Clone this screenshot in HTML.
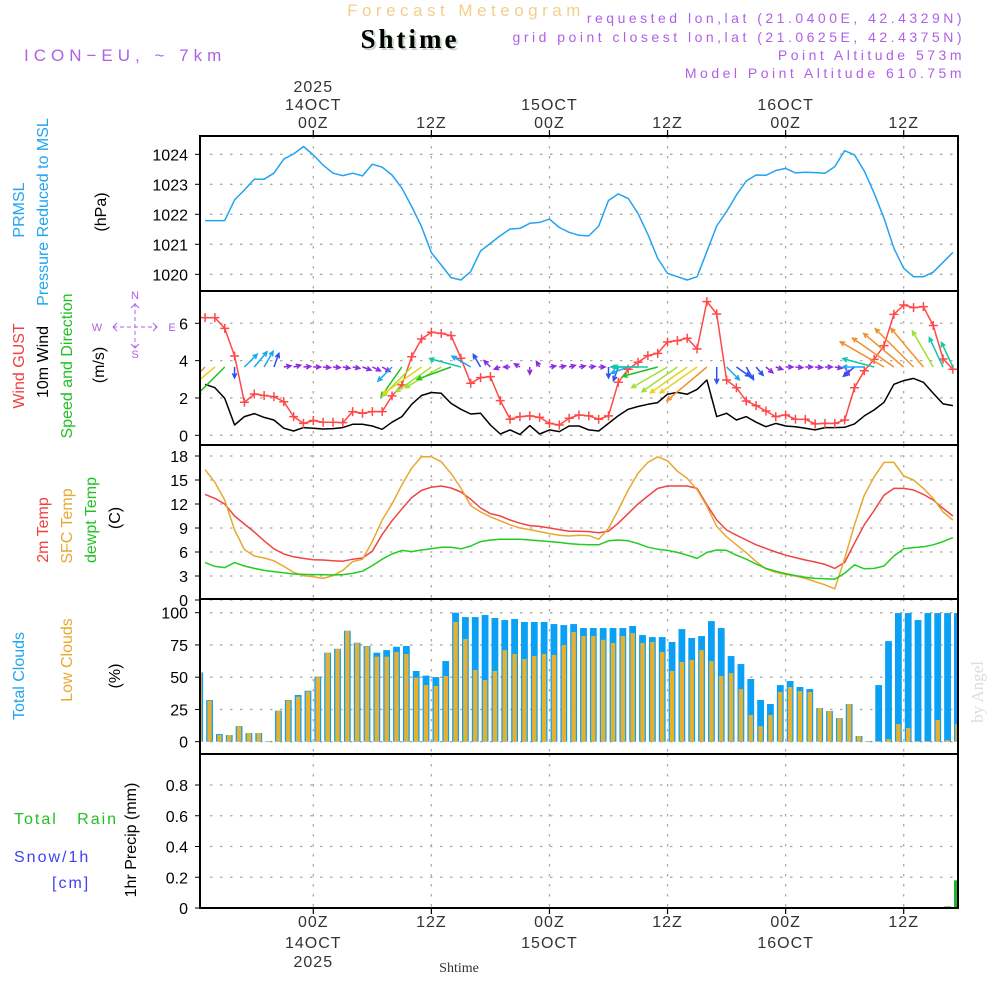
<!DOCTYPE html>
<html><head><meta charset="utf-8">
<style>
html,body{margin:0;padding:0;background:#fff;}
svg{display:block;font-family:"Liberation Sans",sans-serif;}
</style></head>
<body>
<svg id="c" width="1000" height="1000" viewBox="0 0 1000 1000" xmlns="http://www.w3.org/2000/svg">
<rect x="0" y="0" width="1000" height="1000" fill="#fff"/>
<text x="466" y="16" text-anchor="middle" font-size="17" fill="#f3cf8c" letter-spacing="4.5">Forecast Meteogram</text>
<text x="412" y="50" text-anchor="middle" font-size="27" font-weight="bold" font-family="Liberation Serif,serif" fill="#c8d8c8" letter-spacing="3">Shtime</text>
<text x="410" y="48" text-anchor="middle" font-size="27" font-weight="bold" font-family="Liberation Serif,serif" fill="#000" letter-spacing="3">Shtime</text>
<text x="24" y="61" font-size="17" fill="#b060e8" letter-spacing="5">ICON−EU, ~ 7km</text>
<g font-size="14" fill="#b060e8" text-anchor="end" letter-spacing="3.5">
<text x="965" y="23">requested lon,lat (21.0400E, 42.4329N)</text>
<text x="965" y="42">grid point closest lon,lat (21.0625E, 42.4375N)</text>
<text x="965" y="60">Point Altitude 573m</text>
<text x="965" y="78">Model Point Altitude 610.75m</text>
</g>
<g font-size="16">
<text transform="translate(24,210) rotate(-90)" text-anchor="middle" fill="#22a4f0">PRMSL</text>
<text transform="translate(48,212) rotate(-90)" text-anchor="middle" fill="#22a4f0">Pressure Reduced to MSL</text>
<text transform="translate(106,212) rotate(-90)" text-anchor="middle" fill="#000">(hPa)</text>
<text transform="translate(24,366) rotate(-90)" text-anchor="middle" fill="#f04040">Wind GUST</text>
<text transform="translate(48,362) rotate(-90)" text-anchor="middle" fill="#000">10m Wind</text>
<text transform="translate(72,366) rotate(-90)" text-anchor="middle" fill="#22c022">Speed and Direction</text>
<text transform="translate(104,365) rotate(-90)" text-anchor="middle" fill="#000">(m/s)</text>
<text transform="translate(48,530) rotate(-90)" text-anchor="middle" fill="#f04040">2m Temp</text>
<text transform="translate(72,526) rotate(-90)" text-anchor="middle" fill="#e8a830">SFC Temp</text>
<text transform="translate(96,520) rotate(-90)" text-anchor="middle" fill="#22c022">dewpt Temp</text>
<text transform="translate(120,518) rotate(-90)" text-anchor="middle" fill="#000">(C)</text>
<text transform="translate(24,676) rotate(-90)" text-anchor="middle" fill="#22a4f0">Total Clouds</text>
<text transform="translate(72,660) rotate(-90)" text-anchor="middle" fill="#e8a830">Low Clouds</text>
<text transform="translate(120,676) rotate(-90)" text-anchor="middle" fill="#000">(%)</text>
<text transform="translate(136,840) rotate(-90)" text-anchor="middle" fill="#000">1hr Precip (mm)</text>
<text x="14" y="824" fill="#22c022" letter-spacing="2" xml:space="preserve">Total   Rain</text>
<text x="14" y="862" fill="#4040f0" letter-spacing="2">Snow/1h</text>
<text x="52" y="888" fill="#4040f0" letter-spacing="2">[cm]</text>
</g>
<g fill="#b060e8" stroke="#b060e8" font-size="11">
<text x="135" y="299" text-anchor="middle" stroke="none">N</text>
<text x="135" y="358" text-anchor="middle" stroke="none">S</text>
<text x="97" y="331" text-anchor="middle" stroke="none">W</text>
<text x="172" y="331" text-anchor="middle" stroke="none">E</text>
<line x1="135" y1="303" x2="135" y2="348" stroke-dasharray="4,3"/>
<line x1="113" y1="327" x2="157" y2="327" stroke-dasharray="4,3"/>
<polyline points="117,323 113,327 117,331" fill="none"/><polyline points="153,323 157,327 153,331" fill="none"/>
<polyline points="131,308 135,304 139,308" fill="none"/><polyline points="131,344 135,348 139,344" fill="none"/>
</g>
<text transform="translate(983,692) rotate(-90)" text-anchor="middle" font-size="17" font-family="Liberation Serif,serif" fill="#d8e0d8">by Angel</text>
<text x="459" y="972" text-anchor="middle" font-size="14" font-family="Liberation Serif,serif" fill="#333">Shtime</text>
<g id="plot"></g>
</svg>
<script>
const firstHour = -11;
const pressure = [1021.79,1021.79,1021.79,1022.48,1022.81,1023.17,1023.17,1023.37,1023.84,1024.01,1024.26,1023.98,1023.64,1023.37,1023.29,1023.37,1023.28,1023.67,1023.57,1023.31,1022.87,1022.26,1021.59,1020.72,1020.31,1019.89,1019.81,1020.09,1020.78,1021.03,1021.29,1021.51,1021.53,1021.70,1021.73,1021.84,1021.56,1021.40,1021.30,1021.28,1021.61,1022.46,1022.68,1022.53,1022.03,1021.33,1020.53,1020.03,1019.92,1019.81,1019.92,1020.76,1021.61,1022.09,1022.64,1023.11,1023.31,1023.30,1023.46,1023.53,1023.38,1023.40,1023.39,1023.37,1023.59,1024.12,1023.98,1023.44,1022.70,1021.87,1020.87,1020.20,1019.92,1019.92,1020.07,1020.40,1020.73];
const gust = [6.30,6.30,5.73,4.25,1.77,2.21,2.13,2.07,1.80,1.0,0.64,0.79,0.70,0.70,0.68,1.27,1.18,1.27,1.27,2.11,2.70,4.21,5.16,5.52,5.46,5.34,4.13,2.79,3.09,3.14,1.86,0.86,1.0,1.04,0.96,0.64,0.55,0.91,1.09,1.04,0.86,1.04,2.84,3.54,3.91,4.27,4.39,5.0,5.07,5.20,4.63,7.16,6.5,2.96,2.55,1.84,1.59,1.30,1.0,1.09,0.86,0.86,0.61,0.64,0.64,0.82,2.55,3.46,4.07,4.80,6.48,6.98,6.84,6.89,5.88,4.09,3.54];
const wind10m = [2.73,2.55,1.98,0.55,1.0,1.16,0.96,0.82,0.38,0.23,0.41,0.38,0.34,0.36,0.41,0.59,0.59,0.5,0.32,0.70,1.0,1.66,2.13,2.29,2.25,1.71,1.39,1.14,1.18,0.55,0.07,0.29,0.05,0.52,0.07,0.29,0.2,0.5,0.5,0.29,0.23,0.64,1.05,1.39,1.54,1.66,1.75,2.2,2.30,2.2,2.46,2.96,1.0,1.18,0.82,1.0,0.7,0.46,0.64,0.5,0.46,0.38,0.29,0.41,0.41,0.43,0.61,1.04,1.36,1.77,2.73,2.93,3.05,2.84,2.25,1.68,1.59];
const windDir = [225,220,225,270,45,50,60,70,10,15,5,0,-5,-5,-10,-10,-20,-25,-30,225,235,225,215,215,210,200,165,150,120,135,200,180,150,270,120,10,10,15,10,5,0,270,250,200,180,180,195,210,215,215,215,220,270,315,325,300,310,320,340,0,-5,0,-5,0,-10,300,220,180,165,150,145,140,135,130,120,115,115];
const windVec = [2.7,2.5,2.2,0.6,1.0,1.1,1.0,0.8,0.4,0.4,0.4,0.4,0.4,0.4,0.4,0.4,0.5,0.5,0.5,1.1,2.0,2.3,2.6,2.4,2.3,2.0,1.8,1.2,0.8,0.5,0.35,0.35,0.35,0.4,0.35,0.35,0.35,0.35,0.35,0.35,0.35,0.6,0.8,1.0,1.5,1.9,2.0,2.3,2.4,2.5,2.5,2.9,0.9,1.0,0.9,0.8,0.6,0.5,0.4,0.4,0.4,0.4,0.4,0.4,0.4,0.5,0.8,1.2,1.8,2.8,2.8,2.9,3.0,2.8,2.3,1.8,1.5];
const temp2m = [13.2,12.7,12.0,10.5,9.5,8.5,7.4,6.4,5.75,5.4,5.2,5.04,5.0,4.9,4.85,5.1,5.25,6.1,8.2,9.9,11.4,12.8,13.7,14.1,14.25,14.0,13.5,12.6,11.5,10.8,10.5,10.0,9.6,9.3,9.2,9.0,8.8,8.6,8.6,8.55,8.4,8.6,9.6,10.8,12.0,13.0,13.95,14.25,14.25,14.25,13.95,11.9,10.0,8.75,8.1,7.5,6.9,6.45,6.0,5.6,5.3,5.0,4.75,4.45,3.95,4.7,7.1,9.4,11.2,13.1,13.95,13.95,13.75,13.2,12.5,11.45,10.5];
const sfcTemp = [16.3,14.7,12.5,8.75,6.3,5.5,5.25,4.9,4.2,3.45,3.05,2.9,2.7,3.05,3.7,4.8,5.1,7.3,10.0,12.0,14.4,16.5,17.9,17.9,17.3,15.8,14.0,11.8,11.0,10.4,9.9,9.4,9.0,8.8,8.55,8.3,8.1,8.0,8.1,8.05,7.6,8.95,11.25,13.75,15.85,17.2,17.9,17.4,16.1,15.2,13.8,11.7,9.2,7.9,6.9,5.9,4.8,3.9,3.45,3.2,3.0,2.7,2.3,1.9,1.4,5.2,9.4,13.1,15.4,17.2,17.2,15.5,15.0,13.95,12.7,11.0,10.0];
const dewpt = [4.67,4.2,4.05,4.67,4.25,3.95,3.7,3.55,3.4,3.25,3.2,3.17,3.17,3.13,3.17,3.33,3.6,4.3,5.1,5.75,6.2,6.05,6.25,6.4,6.6,6.6,6.4,6.75,7.3,7.5,7.6,7.6,7.6,7.5,7.4,7.3,7.2,7.05,6.95,6.9,6.9,7.4,7.5,7.4,7.05,6.6,6.35,6.2,5.95,5.6,5.2,5.95,6.25,6.2,5.6,5.1,4.5,3.95,3.6,3.3,3.05,2.85,2.7,2.65,2.6,3.35,4.4,3.9,3.95,4.25,5.5,6.4,6.55,6.65,6.9,7.3,7.8];
const barFirstHour = -12;
const totalCloud = [53.7,32.3,5.9,5.2,12.1,6.7,6.7,0.5,24,32.3,36.2,39.5,50.4,69,72,86,76.7,74.2,69,71,73.6,74.2,54.8,51.2,50.1,62.5,100,96.6,96.6,98.2,95.9,94.3,95.1,92.8,92.8,92.8,91.2,90.4,91.2,88.1,88.1,88.1,88.1,88.1,89.7,82.7,81.1,81.1,77.3,87.3,80.4,81.9,93.5,88.1,66.4,60.2,48.6,32.3,29.2,43.9,47,42.4,40.8,26.1,23.8,18.3,29.2,4.4,0.5,43.9,78,99.7,99.7,94.3,99.7,99.7,99.7,99.7];
const lowCloud = [53.7,31.8,5.2,5.2,12,6.7,6.7,0.5,24,32,34.9,39,50,69,72,86,76.7,74,65.9,65.9,69.5,68,49.6,43.9,43.2,50.9,92.8,79.6,55.6,47.8,54.8,71,68,64.1,66.4,68,67.2,74.9,85,81.9,81.9,79,76.5,81.9,84.2,76.5,77.3,69.5,54.8,61.8,63.3,71,62.5,50.9,53.2,40.8,20.7,12.1,20.7,38.5,42.4,39.3,38.5,26.1,23.8,18.3,29.2,4.4,0.5,0.5,2,13.7,10.6,0.5,0.5,16.8,1.3,13.7];
const precip = [0,0,0,0,0,0,0,0,0,0,0,0,0,0,0,0,0,0,0,0,0,0,0,0,0,0,0,0,0,0,0,0,0,0,0,0,0,0,0,0,0,0,0,0,0,0,0,0,0,0,0,0,0,0,0,0,0,0,0,0,0,0,0,0,0,0,0,0,0,0,0,0,0,0,0,0,0.01,0.18];
const timeTicks = [0,12,24,36,48,60];
const timeLabels = ["00Z","12Z","00Z","12Z","00Z","12Z"];
const dateLabels = ["14OCT","","15OCT","","16OCT",""];
const pTicks = [1020,1021,1022,1023,1024];
const wTicks = [0,2,4,6];
const tTicks = [0,3,6,9,12,15,18];
const cTicks = [0,25,50,75,100];
const rTicks = [0,0.2,0.4,0.6,0.8];

const X0=200, X1=958;
const xL = h => 313.3 + 9.84*h;
const xB = h => xL(h) + 4.5;
const yP = v => 154.3 + (1024-v)*30;
const yW = v => 435.3 - v*18.67;
const yT = v => 576 - (v-3)*8;
const yC = v => 741.7 - v*1.29;
const yR = v => 908 - v*153.75;
const panels = [[136,291,'pressure-panel'],[291,445,'wind-panel'],[445,599,'temperature-panel'],[599,754,'cloud-panel'],[754,908,'precip-panel']];

const NS='http://www.w3.org/2000/svg';
const plot=document.getElementById('plot');
function mk(tag, attrs, parent){const e=document.createElementNS(NS,tag);for(const k in attrs)e.setAttribute(k,attrs[k]);(parent||plot).appendChild(e);return e;}

const defs=mk('defs',{});
const cp=mk('clipPath',{id:'pc'},defs);
mk('rect',{x:X0,y:136,width:X1-X0,height:772},cp);

const grid=mk('g',{stroke:'#aaa','stroke-width':1.3,'stroke-dasharray':'2.5,7.5',fill:'none'});


panels.forEach(p=>{timeTicks.forEach(h=>{mk('line',{x1:xL(h),x2:xL(h),y1:p[0],y2:p[1]},grid);});});
function hgrid(ticks,fy,fmt){
  ticks.forEach(v=>{
    const y=fy(v);
    mk('line',{x1:X0+10,x2:X1,y1:y,y2:y},grid);
    mk('line',{x1:X0-5,x2:X0,y1:y,y2:y,stroke:'#000','stroke-width':1});
    const t=mk('text',{x:X0-12,y:y+6,'text-anchor':'end','font-size':16,fill:'#000'});
    
    
    t.textContent=fmt(v);
  });
}
hgrid(pTicks,yP,v=>String(v));
hgrid(wTicks,yW,v=>String(v));
hgrid(tTicks,yT,v=>String(v));
hgrid(cTicks,yC,v=>String(v));
hgrid(rTicks,yR,v=>v===0?'0':v.toFixed(1));

timeTicks.forEach((h,i)=>{
  const x=xL(h);
  mk('line',{x1:x,x2:x,y1:130,y2:136,stroke:'#000','stroke-width':1.2});
  mk('line',{x1:x,x2:x,y1:908,y2:914,stroke:'#000','stroke-width':1.2});
  const a=mk('text',{x:x,y:128,'text-anchor':'middle','font-size':16,fill:'#333','letter-spacing':1});
  
  
  a.textContent=timeLabels[i];
  const b=mk('text',{x:x,y:927,'text-anchor':'middle','font-size':16,fill:'#333','letter-spacing':1});
  
  
  b.textContent=timeLabels[i];
  if(dateLabels[i]){
    const c=mk('text',{x:x,y:110,'text-anchor':'middle','font-size':16,fill:'#333','letter-spacing':1});
    
    
    c.textContent=dateLabels[i];
    const d=mk('text',{x:x,y:948,'text-anchor':'middle','font-size':16,fill:'#333','letter-spacing':1});
    
    
    d.textContent=dateLabels[i];
  }
});
const y1=mk('text',{x:xL(0),y:92,'text-anchor':'middle','font-size':16,fill:'#333','letter-spacing':1});


y1.textContent='2025';
const y2=mk('text',{x:xL(0),y:967,'text-anchor':'middle','font-size':16,fill:'#333','letter-spacing':1});


y2.textContent='2025';

const data=mk('g',{'clip-path':'url(#pc)'});

totalCloud.forEach((v,i)=>{
  const h=barFirstHour+i, x=xB(h);
  const r=mk('rect',{x:x-3.4,y:yC(v),width:6.8,height:yC(0)-yC(v),fill:'#0aa0f5'},data);
  
  
  const lv=lowCloud[i];
  const r2=mk('rect',{x:x-2.2,y:yC(lv),width:4.4,height:yC(0)-yC(lv),fill:'#e8b030'},data);
  
  
});
precip.forEach((v,i)=>{
  if(v<=0)return;
  const x=xB(barFirstHour+i);
  const r=mk('rect',{x:x-3.4,y:yR(v),width:6.8,height:yR(0)-yR(v),fill:'#22b030'},data);
  
  
});

function line(arr,fy,color,name,w){
  const pts=arr.map((v,i)=>xL(firstHour+i).toFixed(1)+','+fy(v).toFixed(1)).join(' ');
  const l=mk('polyline',{points:pts,fill:'none',stroke:color,'stroke-width':w||1.5,'stroke-linejoin':'round'},data);
  
  
}
line(pressure,yP,'#22a4f0','pressure-line');
line(wind10m,yW,'#000','wind-speed-line');
line(gust,yW,'#ff4848','gust-line');
gust.forEach((v,i)=>{
  const x=xL(firstHour+i), y=yW(v);
  const m=mk('path',{d:`M${x-4.5},${y}H${x+4.5}M${x},${y-4.5}V${y+4.5}`,stroke:'#ff4848','stroke-width':1.5,fill:'none'},data);
  
  
});
function arrowColor(m){
  if(m<0.55)return '#8a2be2';
  if(m<0.95)return '#2a50f0';
  if(m<1.45)return '#18a8f0';
  if(m<1.95)return '#10c8a8';
  if(m<2.25)return '#20c020';
  if(m<2.45)return '#a0e030';
  if(m<2.65)return '#e8d020';
  return '#f09030';
}
windDir.forEach((d,i)=>{
  const x=xL(firstHour+i), y=367, m=windVec[i];
  const L=Math.max(6,m*18), a=d*Math.PI/180;
  const tx=x+L*Math.cos(a), ty=y-L*Math.sin(a);
  const hl=5, b1=a+Math.PI-0.45, b2=a+Math.PI+0.45;
  const c=arrowColor(m);
  const p=mk('path',{d:`M${x},${y}L${tx},${ty}M${tx+hl*Math.cos(b1)},${ty-hl*Math.sin(b1)}L${tx},${ty}L${tx+hl*Math.cos(b2)},${ty-hl*Math.sin(b2)}`,stroke:c,'stroke-width':1.5,fill:'none'},data);
  
  
});
line(temp2m,yT,'#f04444','temp-2m-line');
line(sfcTemp,yT,'#e8a830','sfc-temp-line');
line(dewpt,yT,'#22cc22','dewpoint-line');

panels.forEach(p=>{
  const r=mk('rect',{x:X0,y:p[0],width:X1-X0,height:p[1]-p[0],fill:'none',stroke:'#000','stroke-width':2});
  
  
});
</script>
</body></html>
